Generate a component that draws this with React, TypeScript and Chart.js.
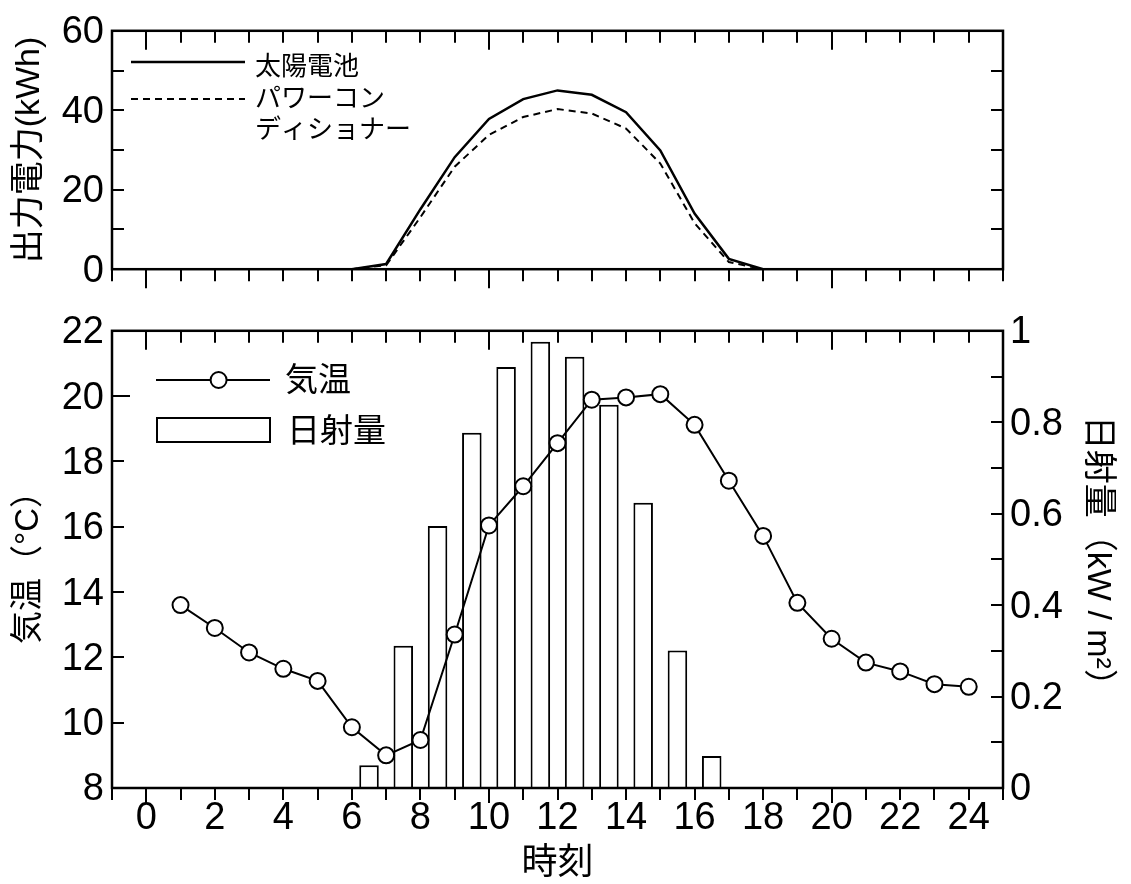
import React, { useEffect, useRef } from "react";
import { Chart, registerables } from "chart.js";

Chart.register(...registerables);

// ---------- data ----------
const hours = [0, 1, 2, 3, 4, 5, 6, 7, 8, 9, 10, 11, 12, 13, 14, 15, 16, 17, 18, 19, 20, 21, 22, 23, 24];
const solarCellPower = [0, 0, 0, 0, 0, 0, 0, 1.3, 15.1, 28.2, 37.8, 42.8, 45.0, 43.9, 39.5, 29.9, 14.0, 2.6, 0, 0, 0, 0, 0, 0, 0];
const powerConditionerPower = [0, 0, 0, 0, 0, 0, 0, 1.0, 13.1, 25.8, 33.8, 38.3, 40.3, 39.2, 35.4, 26.6, 11.6, 1.8, 0, 0, 0, 0, 0, 0, 0];

const tempHours = [1, 2, 3, 4, 5, 6, 7, 8, 9, 10, 11, 12, 13, 14, 15, 16, 17, 18, 19, 20, 21, 22, 23, 24];
const temperature = [13.6, 12.9, 12.15, 11.65, 11.28, 9.86, 9.0, 9.47, 12.7, 16.04, 17.24, 18.56, 19.89, 19.96, 20.06, 19.12, 17.41, 15.72, 13.67, 12.57, 11.84, 11.57, 11.18, 11.1];

const radiationHours = [6.5, 7.5, 8.5, 9.5, 10.5, 11.5, 12.5, 13.5, 14.5, 15.5, 16.5];
const radiation = [0.05, 0.311, 0.573, 0.777, 0.921, 0.976, 0.943, 0.838, 0.624, 0.301, 0.07];

// ---------- ticks ----------
const powerTicks = [0, 20, 40, 60];
const powerMarkTicks = [10, 20, 30, 40, 50];
const hourLabelTicks = [0, 2, 4, 6, 8, 10, 12, 14, 16, 18, 20, 22, 24];
const hourInnerTicks = [0, 1, 2, 3, 4, 5, 6, 7, 8, 9, 10, 11, 12, 13, 14, 15, 16, 17, 18, 19, 20, 21, 22, 23, 24];
const hourOuterTicks = [-1, 0, 1, 2, 3, 4, 5, 6, 7, 8, 9, 10, 11, 12, 13, 14, 15, 16, 17, 18, 19, 20, 21, 22, 23, 24, 25];
const hourMajorTicks = [0, 10, 20];
const tempTicks = [8, 10, 12, 14, 16, 18, 20, 22];
const tempMarkTicks = [10, 12, 14, 16, 18, 20];
const tempLongTicks = [20];
const radiationTicks = [0, 0.2, 0.4, 0.6, 0.8, 1];
const radiationTickLabels = ["0", "0.2", "0.4", "0.6", "0.8", "1"];
const radiationMarkTicks = [0.1, 0.2, 0.3, 0.4, 0.5, 0.6, 0.7, 0.8, 0.9];

const FONT = '"Liberation Sans", Arial, "Noto Sans CJK JP", sans-serif';

type FrameSpec = {
  xTopLen: (v: number) => number;
  xBottomLen: (v: number) => number;
  yLeftKey: string;
  yLeftTicks: number[];
  yLeftLen: (v: number) => number;
  yRightKey: string;
  yRightTicks: number[];
};

function makeFramePlugin(spec: FrameSpec) {
  return {
    id: "frame",
    afterDatasetsDraw(chart: any) {
      const { ctx, chartArea: a, scales } = chart;
      const xs = scales.x;
      const yl = scales[spec.yLeftKey];
      const yr = scales[spec.yRightKey];
      ctx.save();
      ctx.strokeStyle = "#000";
      ctx.lineCap = "butt";
      ctx.lineWidth = 2;
      const seg = (x1: number, y1: number, x2: number, y2: number) => {
        ctx.beginPath();
        ctx.moveTo(x1, y1);
        ctx.lineTo(x2, y2);
        ctx.stroke();
      };
      hourInnerTicks.forEach((v) => {
        const px = Math.round(xs.getPixelForValue(v));
        seg(px, a.top, px, a.top + spec.xTopLen(v));
      });
      hourOuterTicks.forEach((v) => {
        const px = Math.round(xs.getPixelForValue(v));
        seg(px, a.bottom, px, a.bottom + spec.xBottomLen(v));
      });
      spec.yLeftTicks.forEach((v) => {
        const py = Math.round(yl.getPixelForValue(v));
        seg(a.left, py, a.left + spec.yLeftLen(v), py);
      });
      spec.yRightTicks.forEach((v) => {
        const py = Math.round(yr.getPixelForValue(v));
        seg(a.right, py, a.right - 12, py);
      });
      ctx.lineWidth = 2.5;
      ctx.strokeRect(a.left, a.top, a.right - a.left, a.bottom - a.top);
      ctx.restore();
    },
  };
}

const topLegendPlugin = {
  id: "topLegend",
  afterDraw(chart: any) {
    const { ctx } = chart;
    ctx.save();
    ctx.strokeStyle = "#000";
    ctx.fillStyle = "#000";
    ctx.lineWidth = 2.5;
    ctx.beginPath();
    ctx.moveTo(131, 62);
    ctx.lineTo(245, 62);
    ctx.stroke();
    ctx.lineWidth = 2;
    ctx.setLineDash([7, 5]);
    ctx.beginPath();
    ctx.moveTo(131, 99);
    ctx.lineTo(245, 99);
    ctx.stroke();
    ctx.setLineDash([]);
    ctx.font = `26px ${FONT}`;
    ctx.textBaseline = "middle";
    ctx.textAlign = "left";
    ctx.fillText("太陽電池", 255, 68);
    ctx.fillText("パワーコン", 255, 100);
    ctx.fillText("ディショナー", 255, 131);
    ctx.restore();
  },
};

const bottomLegendPlugin = {
  id: "bottomLegend",
  afterDraw(chart: any) {
    const { ctx } = chart;
    ctx.save();
    ctx.strokeStyle = "#000";
    ctx.fillStyle = "#000";
    ctx.lineWidth = 2;
    ctx.beginPath();
    ctx.moveTo(156, 80);
    ctx.lineTo(270, 80);
    ctx.stroke();
    ctx.beginPath();
    ctx.arc(218.6, 80, 8, 0, Math.PI * 2);
    ctx.fillStyle = "#fff";
    ctx.fill();
    ctx.stroke();
    ctx.strokeRect(157, 118, 113, 24);
    ctx.fillStyle = "#000";
    ctx.font = `33px ${FONT}`;
    ctx.textBaseline = "middle";
    ctx.textAlign = "left";
    ctx.fillText("気温", 285, 82);
    ctx.fillText("日射量", 287, 133);
    ctx.restore();
  },
};

const isMajorHour = (v: number) => hourMajorTicks.includes(v);

export default function App() {
  const topRef = useRef<HTMLCanvasElement>(null);
  const botRef = useRef<HTMLCanvasElement>(null);

  useEffect(() => {
    const tickFont = { family: FONT, size: 38 };

    const topChart = new Chart(topRef.current as HTMLCanvasElement, {
      type: "line",
      data: {
        datasets: [
          {
            label: "太陽電池",
            data: hours.map((h, i) => ({ x: h, y: solarCellPower[i] })),
            borderColor: "#000",
            borderWidth: 2.5,
            pointRadius: 0,
            tension: 0,
          },
          {
            label: "パワーコンディショナー",
            data: hours.map((h, i) => ({ x: h, y: powerConditionerPower[i] })),
            borderColor: "#000",
            borderWidth: 2,
            borderDash: [7, 5],
            pointRadius: 0,
            tension: 0,
          },
        ],
      },
      options: {
        responsive: false,
        animation: false,
        layout: { padding: { top: 23, right: 128, bottom: 23, left: 0 } },
        plugins: { legend: { display: false }, tooltip: { enabled: false } },
        scales: {
          x: { type: "linear", min: -1, max: 25, display: false },
          y: {
            type: "linear",
            min: 0,
            max: 60,
            afterBuildTicks: (s: any) => {
              s.ticks = powerTicks.map((v) => ({ value: v }));
            },
            afterFit: (s: any) => {
              s.width = 112;
            },
            grid: { display: false, drawTicks: false },
            border: { display: false },
            ticks: { font: tickFont, color: "#000", padding: 8, labelOffset: 2 },
            title: {
              display: true,
              text: "出力電力(kWh)",
              color: "#000",
              font: { family: FONT, size: 34 },
              padding: { top: 9, bottom: 0 },
            },
          },
        },
      } as any,
      plugins: [
        makeFramePlugin({
          xTopLen: (v) => (isMajorHour(v) ? 19 : 12),
          xBottomLen: (v) => (isMajorHour(v) ? 19 : 12),
          yLeftKey: "y",
          yLeftTicks: powerMarkTicks,
          yLeftLen: () => 12,
          yRightKey: "y",
          yRightTicks: powerMarkTicks,
        }),
        topLegendPlugin,
      ],
    });

    const botChart = new Chart(botRef.current as HTMLCanvasElement, {
      type: "bar",
      data: {
        datasets: [
          {
            type: "line",
            label: "気温",
            data: tempHours.map((h, i) => ({ x: h, y: temperature[i] })),
            yAxisID: "y",
            borderColor: "#000",
            borderWidth: 2,
            pointRadius: 8,
            pointBorderWidth: 2,
            pointBackgroundColor: "#fff",
            pointBorderColor: "#000",
            tension: 0,
            order: 0,
          },
          {
            type: "bar",
            label: "日射量",
            data: radiationHours.map((h, i) => ({ x: h, y: radiation[i] })),
            yAxisID: "y1",
            backgroundColor: "#fff",
            borderColor: "#000",
            borderWidth: 2,
            barPercentage: 0.57,
            categoryPercentage: 1,
            order: 1,
          },
        ],
      } as any,
      options: {
        responsive: false,
        animation: false,
        layout: { padding: { top: 30, right: 0, bottom: 0, left: 0 } },
        plugins: { legend: { display: false }, tooltip: { enabled: false } },
        scales: {
          x: {
            type: "linear",
            min: -1,
            max: 25,
            offset: false,
            afterBuildTicks: (s: any) => {
              s.ticks = hourLabelTicks.map((v) => ({ value: v }));
            },
            afterFit: (s: any) => {
              s.height = 96;
            },
            grid: { display: false, drawTicks: false, offset: false },
            border: { display: false },
            ticks: { font: tickFont, color: "#000", padding: 8, maxRotation: 0, autoSkip: false },
            title: {
              display: true,
              text: "時刻",
              color: "#000",
              font: { family: FONT, size: 36 },
              padding: { top: 0, bottom: -2 },
            },
          },
          y: {
            type: "linear",
            position: "left",
            min: 8,
            max: 22,
            afterBuildTicks: (s: any) => {
              s.ticks = tempTicks.map((v) => ({ value: v }));
            },
            afterFit: (s: any) => {
              s.width = 112;
            },
            grid: { display: false, drawTicks: false },
            border: { display: false },
            ticks: { font: tickFont, color: "#000", padding: 8, labelOffset: 2 },
            title: {
              display: true,
              text: "気温（°C）",
              color: "#000",
              font: { family: FONT, size: 33 },
              padding: { top: 9, bottom: 0 },
            },
          },
          y1: {
            type: "linear",
            position: "right",
            min: 0,
            max: 1,
            afterBuildTicks: (s: any) => {
              s.ticks = radiationTicks.map((v) => ({ value: v }));
            },
            afterFit: (s: any) => {
              s.width = 128;
            },
            grid: { display: false, drawTicks: false },
            border: { display: false },
            ticks: {
              font: tickFont,
              color: "#000",
              padding: 7,
              labelOffset: 2,
              callback: (_v: any, i: number) => radiationTickLabels[i],
            },
            title: {
              display: true,
              text: "日射量（kW / m²）",
              color: "#000",
              font: { family: FONT, size: 34 },
              padding: { top: 13, bottom: 0 },
            },
          },
        },
      } as any,
      plugins: [
        makeFramePlugin({
          xTopLen: (v) => (isMajorHour(v) ? 19 : 12),
          xBottomLen: (v) => (isMajorHour(v) ? 15 : 12),
          yLeftKey: "y",
          yLeftTicks: tempMarkTicks,
          yLeftLen: (v) => (tempLongTicks.includes(v) ? 18 : 12),
          yRightKey: "y1",
          yRightTicks: radiationMarkTicks,
        }),
        bottomLegendPlugin,
      ],
    });

    return () => {
      topChart.destroy();
      botChart.destroy();
    };
  }, []);

  return (
    <div style={{ position: "absolute", left: 0, top: 0, width: 1131, height: 884, background: "#fff" }}>
      <canvas
        ref={topRef}
        width={1131}
        height={300}
        style={{ position: "absolute", left: 0, top: 0, width: 1131, height: 300, display: "block" }}
      />
      <canvas
        ref={botRef}
        width={1131}
        height={584}
        style={{ position: "absolute", left: 0, top: 300, width: 1131, height: 584, display: "block" }}
      />
    </div>
  );
}
